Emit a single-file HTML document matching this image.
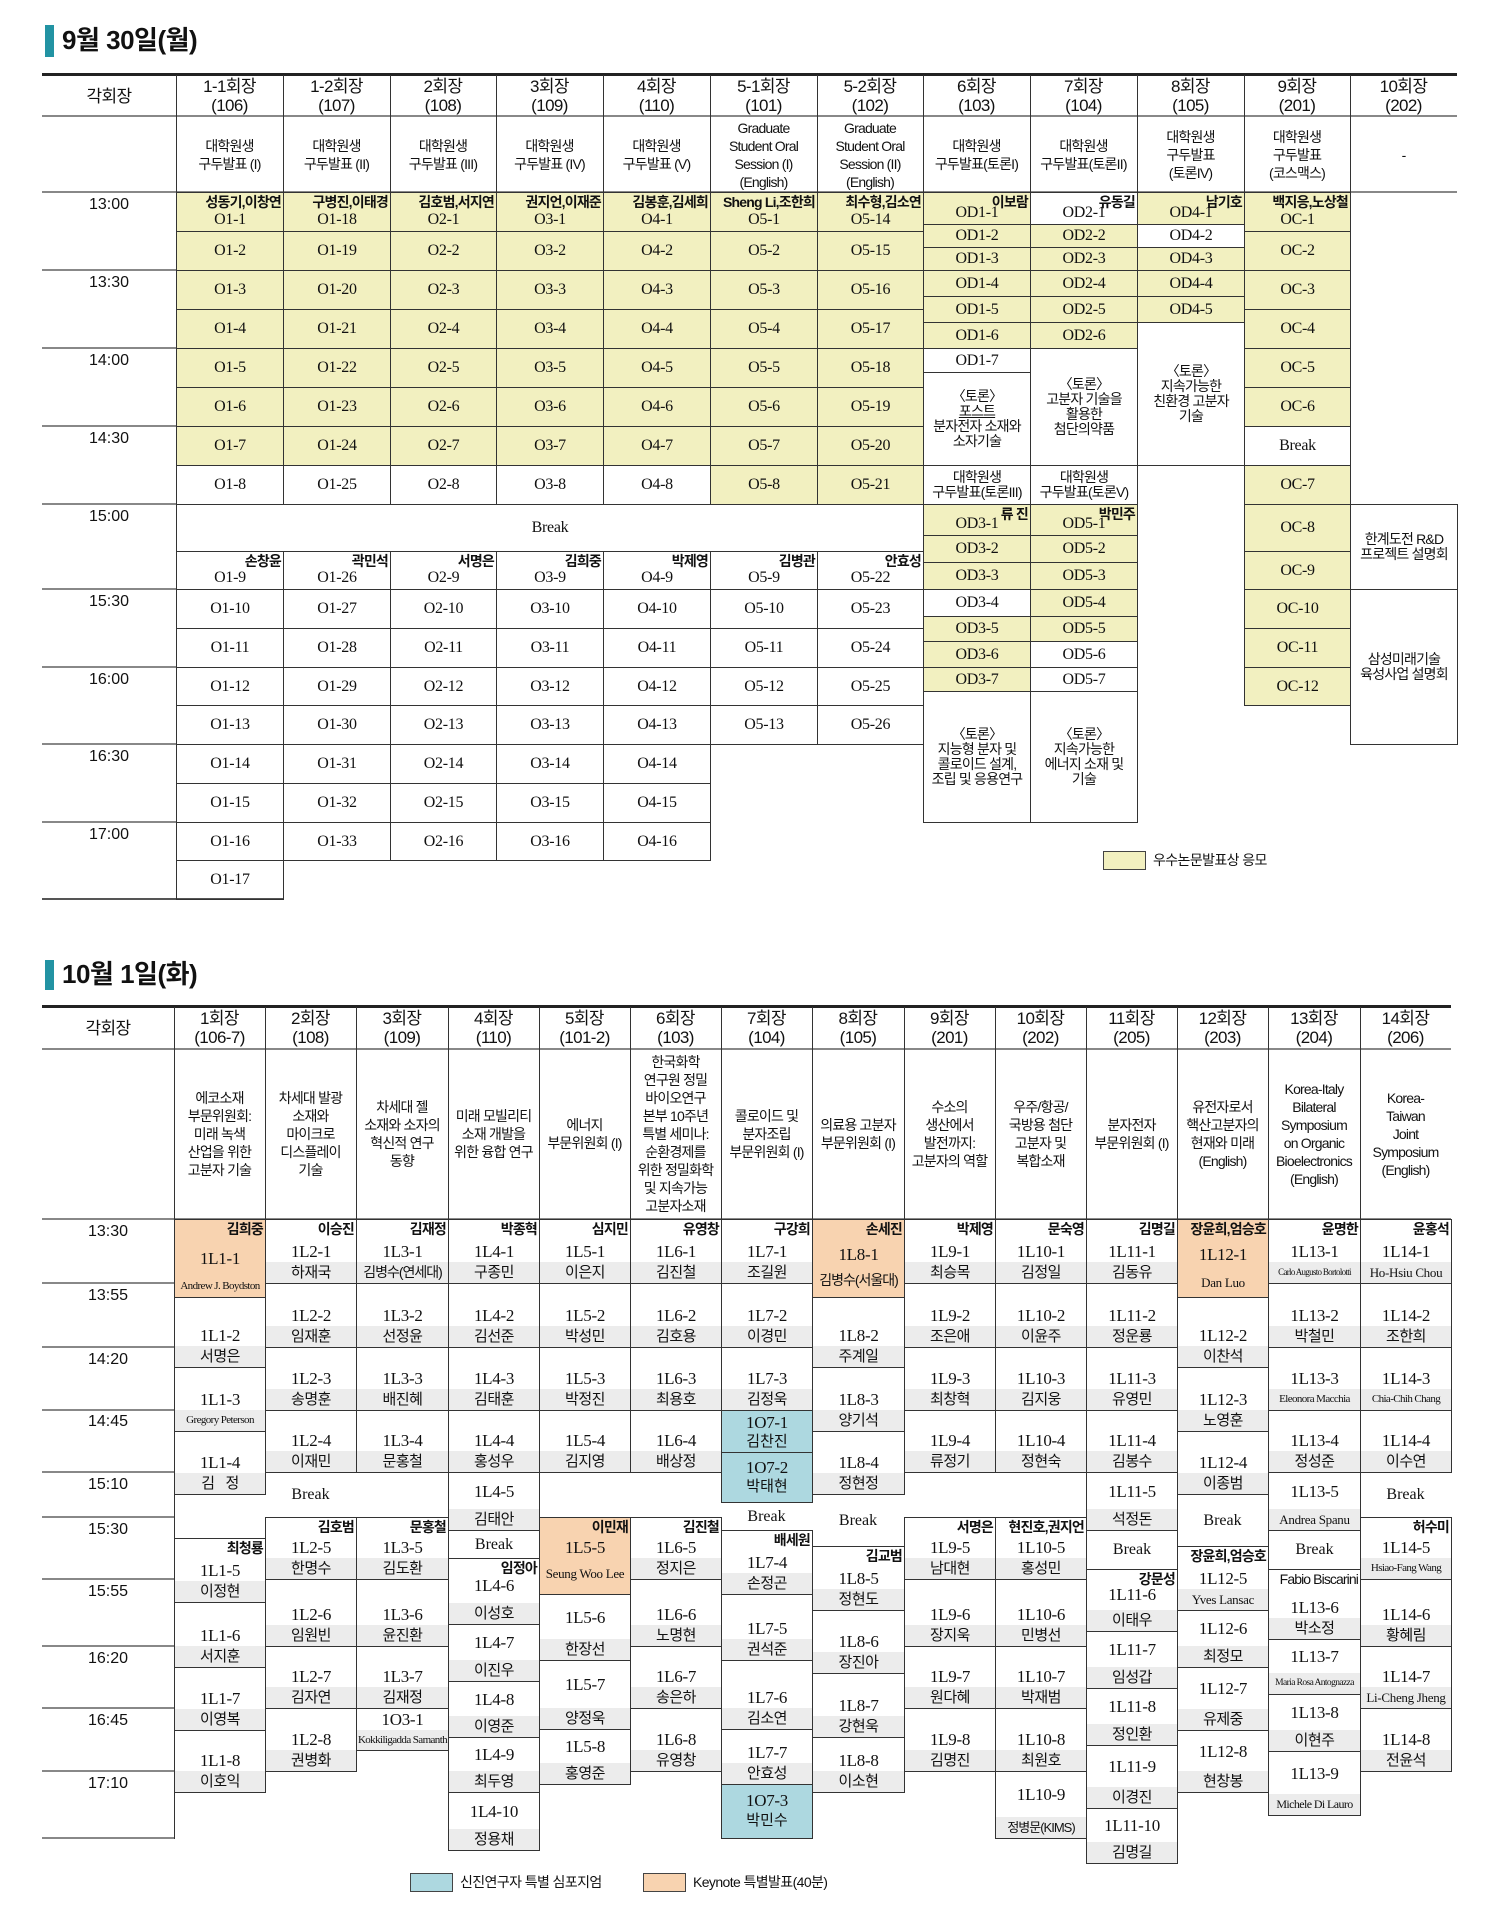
<!DOCTYPE html>
<html><head><meta charset="utf-8"><style>
body{margin:0;width:1500px;height:1931px;position:relative;background:#fff;font-family:"Liberation Sans","Noto Sans CJK KR",sans-serif;color:#111;overflow:hidden}
.a{position:absolute;box-sizing:border-box}
.c{position:absolute;box-sizing:border-box;border:1px solid #333;display:flex;align-items:center;justify-content:center;text-align:center;font:16px/1.1 "Liberation Serif","Noto Serif CJK KR",serif;letter-spacing:-0.3px}
.y{background:#f2f0c0}
.n{align-items:flex-end;padding-bottom:2px}
.n b,.d b{position:absolute;top:1px;right:2px;font:bold 14px/16px "Liberation Sans","Noto Sans CJK KR",sans-serif;letter-spacing:-0.8px;white-space:nowrap}
.t{font:14px/15px "Liberation Sans","Noto Sans CJK KR",sans-serif;letter-spacing:-0.8px}
.h{position:absolute;box-sizing:border-box;display:flex;align-items:center;justify-content:center;text-align:center;font:17px/19px "Liberation Sans","Noto Sans CJK KR",sans-serif;letter-spacing:-0.6px}
.ds{position:absolute;box-sizing:border-box;display:flex;align-items:center;justify-content:center;text-align:center;font:14px/18px "Liberation Sans","Noto Sans CJK KR",sans-serif;letter-spacing:-0.8px}
.tm{position:absolute;width:134px;left:42px;text-align:center;font:16px "Liberation Sans",sans-serif}
.vl{position:absolute;background:#333;width:1px}
.hl{position:absolute;background:#888;height:2px}
.d{position:absolute;box-sizing:border-box;border:1px solid #333;display:flex;flex-direction:column;justify-content:flex-end;text-align:center;background:#fff}
.cd{font:17px/19px "Liberation Serif",serif;margin-bottom:1px;letter-spacing:-0.3px}
.m .cd{flex:1;display:flex;align-items:center;justify-content:center;margin:0}
.bd{height:21px;line-height:21px;background:#ececec;font-size:15px;letter-spacing:-0.5px;font-family:"Liberation Sans","Noto Sans CJK KR",sans-serif;white-space:nowrap;overflow:hidden}
.sm{font:11px/21px "Liberation Serif",serif;letter-spacing:-0.6px}
.en{font:13px/21px "Liberation Serif",serif;letter-spacing:-0.3px}
.o{background:#f8d3b0}.o .bd{background:transparent}
.bl{background:#add8e0;justify-content:center}
.bk{position:absolute;display:flex;align-items:center;justify-content:center;font:16px "Liberation Serif",serif}
</style></head><body>

<div class="a" style="left:45px;top:25px;width:9px;height:32px;background:#2293a3"></div>
<div class="a" style="left:62px;top:23px;font:bold 26px/34px 'Liberation Sans','Noto Sans CJK KR',sans-serif;letter-spacing:-0.5px">9월 30일(월)</div>

<div class="a" style="left:42px;top:73px;width:1415px;height:3px;background:#222"></div>
<div class="hl" style="left:42px;top:115px;width:1415px"></div>
<div class="hl" style="left:42px;top:191px;width:1415px"></div>
<div class="vl" style="left:176px;top:75px;height:825px"></div>
<div class="h" style="left:42px;top:76px;width:134px;height:40px">각회장</div>
<div class="h" style="left:176px;top:76px;width:107px;height:40px">1-1회장<br>(106)</div>
<div class="h" style="left:283px;top:76px;width:107px;height:40px">1-2회장<br>(107)</div>
<div class="h" style="left:390px;top:76px;width:106px;height:40px">2회장<br>(108)</div>
<div class="h" style="left:496px;top:76px;width:107px;height:40px">3회장<br>(109)</div>
<div class="h" style="left:603px;top:76px;width:107px;height:40px">4회장<br>(110)</div>
<div class="h" style="left:710px;top:76px;width:107px;height:40px">5-1회장<br>(101)</div>
<div class="h" style="left:817px;top:76px;width:106px;height:40px">5-2회장<br>(102)</div>
<div class="h" style="left:923px;top:76px;width:107px;height:40px">6회장<br>(103)</div>
<div class="h" style="left:1030px;top:76px;width:107px;height:40px">7회장<br>(104)</div>
<div class="h" style="left:1137px;top:76px;width:107px;height:40px">8회장<br>(105)</div>
<div class="h" style="left:1244px;top:76px;width:106px;height:40px">9회장<br>(201)</div>
<div class="h" style="left:1350px;top:76px;width:107px;height:40px">10회장<br>(202)</div>
<div class="vl" style="left:283px;top:75px;height:117px"></div><div class="vl" style="left:390px;top:75px;height:117px"></div><div class="vl" style="left:496px;top:75px;height:117px"></div><div class="vl" style="left:603px;top:75px;height:117px"></div><div class="vl" style="left:710px;top:75px;height:117px"></div><div class="vl" style="left:817px;top:75px;height:117px"></div><div class="vl" style="left:923px;top:75px;height:117px"></div><div class="vl" style="left:1030px;top:75px;height:117px"></div><div class="vl" style="left:1137px;top:75px;height:117px"></div><div class="vl" style="left:1244px;top:75px;height:117px"></div><div class="vl" style="left:1350px;top:75px;height:117px"></div>
<div class="ds" style="left:176px;top:117px;width:107px;height:75px">대학원생<br>구두발표 (I)</div>
<div class="ds" style="left:283px;top:117px;width:107px;height:75px">대학원생<br>구두발표 (II)</div>
<div class="ds" style="left:390px;top:117px;width:106px;height:75px">대학원생<br>구두발표 (III)</div>
<div class="ds" style="left:496px;top:117px;width:107px;height:75px">대학원생<br>구두발표 (IV)</div>
<div class="ds" style="left:603px;top:117px;width:107px;height:75px">대학원생<br>구두발표 (V)</div>
<div class="ds" style="left:710px;top:117px;width:107px;height:75px">Graduate<br>Student Oral<br>Session (I)<br>(English)</div>
<div class="ds" style="left:817px;top:117px;width:106px;height:75px">Graduate<br>Student Oral<br>Session (II)<br>(English)</div>
<div class="ds" style="left:923px;top:117px;width:107px;height:75px">대학원생<br>구두발표(토론I)</div>
<div class="ds" style="left:1030px;top:117px;width:107px;height:75px">대학원생<br>구두발표(토론II)</div>
<div class="ds" style="left:1137px;top:117px;width:107px;height:75px">대학원생<br>구두발표<br>(토론IV)</div>
<div class="ds" style="left:1244px;top:117px;width:106px;height:75px">대학원생<br>구두발표<br>(코스맥스)</div>
<div class="ds" style="left:1350px;top:117px;width:107px;height:75px">-</div>

<div class="hl" style="left:42px;top:269px;width:134px"></div><div class="hl" style="left:42px;top:347px;width:134px"></div><div class="hl" style="left:42px;top:425px;width:134px"></div><div class="hl" style="left:42px;top:503px;width:134px"></div><div class="hl" style="left:42px;top:588px;width:134px"></div><div class="hl" style="left:42px;top:666px;width:134px"></div><div class="hl" style="left:42px;top:743px;width:134px"></div><div class="hl" style="left:42px;top:821px;width:134px"></div><div class="a" style="left:42px;top:898px;width:241px;height:2px;background:#555"></div>
<div class="tm" style="top:196px">13:00</div><div class="tm" style="top:274px">13:30</div><div class="tm" style="top:352px">14:00</div><div class="tm" style="top:430px">14:30</div><div class="tm" style="top:508px">15:00</div><div class="tm" style="top:593px">15:30</div><div class="tm" style="top:671px">16:00</div><div class="tm" style="top:748px">16:30</div><div class="tm" style="top:826px">17:00</div>

<div class="c y n" style="left:176px;top:192px;width:108px;height:40px"><b>성동기,이창연</b>O1-1</div>
<div class="c y" style="left:176px;top:231px;width:108px;height:40px">O1-2</div>
<div class="c y" style="left:176px;top:270px;width:108px;height:40px">O1-3</div>
<div class="c y" style="left:176px;top:309px;width:108px;height:40px">O1-4</div>
<div class="c y" style="left:176px;top:348px;width:108px;height:40px">O1-5</div>
<div class="c y" style="left:176px;top:387px;width:108px;height:40px">O1-6</div>
<div class="c y" style="left:176px;top:426px;width:108px;height:40px">O1-7</div>
<div class="c" style="left:176px;top:465px;width:108px;height:40px">O1-8</div>
<div class="c n" style="left:176px;top:551px;width:108px;height:39px"><b>손창윤</b>O1-9</div>
<div class="c" style="left:176px;top:589px;width:108px;height:40px">O1-10</div>
<div class="c" style="left:176px;top:628px;width:108px;height:40px">O1-11</div>
<div class="c" style="left:176px;top:667px;width:108px;height:39px">O1-12</div>
<div class="c" style="left:176px;top:705px;width:108px;height:40px">O1-13</div>
<div class="c" style="left:176px;top:744px;width:108px;height:40px">O1-14</div>
<div class="c" style="left:176px;top:783px;width:108px;height:40px">O1-15</div>
<div class="c" style="left:176px;top:822px;width:108px;height:39px">O1-16</div>
<div class="c" style="left:176px;top:860px;width:108px;height:40px">O1-17</div>
<div class="c y n" style="left:283px;top:192px;width:108px;height:40px"><b>구병진,이태경</b>O1-18</div>
<div class="c y" style="left:283px;top:231px;width:108px;height:40px">O1-19</div>
<div class="c y" style="left:283px;top:270px;width:108px;height:40px">O1-20</div>
<div class="c y" style="left:283px;top:309px;width:108px;height:40px">O1-21</div>
<div class="c y" style="left:283px;top:348px;width:108px;height:40px">O1-22</div>
<div class="c y" style="left:283px;top:387px;width:108px;height:40px">O1-23</div>
<div class="c y" style="left:283px;top:426px;width:108px;height:40px">O1-24</div>
<div class="c" style="left:283px;top:465px;width:108px;height:40px">O1-25</div>
<div class="c n" style="left:283px;top:551px;width:108px;height:39px"><b>곽민석</b>O1-26</div>
<div class="c" style="left:283px;top:589px;width:108px;height:40px">O1-27</div>
<div class="c" style="left:283px;top:628px;width:108px;height:40px">O1-28</div>
<div class="c" style="left:283px;top:667px;width:108px;height:39px">O1-29</div>
<div class="c" style="left:283px;top:705px;width:108px;height:40px">O1-30</div>
<div class="c" style="left:283px;top:744px;width:108px;height:40px">O1-31</div>
<div class="c" style="left:283px;top:783px;width:108px;height:40px">O1-32</div>
<div class="c" style="left:283px;top:822px;width:108px;height:39px">O1-33</div>
<div class="c y n" style="left:390px;top:192px;width:107px;height:40px"><b>김호범,서지연</b>O2-1</div>
<div class="c y" style="left:390px;top:231px;width:107px;height:40px">O2-2</div>
<div class="c y" style="left:390px;top:270px;width:107px;height:40px">O2-3</div>
<div class="c y" style="left:390px;top:309px;width:107px;height:40px">O2-4</div>
<div class="c y" style="left:390px;top:348px;width:107px;height:40px">O2-5</div>
<div class="c y" style="left:390px;top:387px;width:107px;height:40px">O2-6</div>
<div class="c y" style="left:390px;top:426px;width:107px;height:40px">O2-7</div>
<div class="c" style="left:390px;top:465px;width:107px;height:40px">O2-8</div>
<div class="c n" style="left:390px;top:551px;width:107px;height:39px"><b>서명은</b>O2-9</div>
<div class="c" style="left:390px;top:589px;width:107px;height:40px">O2-10</div>
<div class="c" style="left:390px;top:628px;width:107px;height:40px">O2-11</div>
<div class="c" style="left:390px;top:667px;width:107px;height:39px">O2-12</div>
<div class="c" style="left:390px;top:705px;width:107px;height:40px">O2-13</div>
<div class="c" style="left:390px;top:744px;width:107px;height:40px">O2-14</div>
<div class="c" style="left:390px;top:783px;width:107px;height:40px">O2-15</div>
<div class="c" style="left:390px;top:822px;width:107px;height:39px">O2-16</div>
<div class="c y n" style="left:496px;top:192px;width:108px;height:40px"><b>권지언,이재준</b>O3-1</div>
<div class="c y" style="left:496px;top:231px;width:108px;height:40px">O3-2</div>
<div class="c y" style="left:496px;top:270px;width:108px;height:40px">O3-3</div>
<div class="c y" style="left:496px;top:309px;width:108px;height:40px">O3-4</div>
<div class="c y" style="left:496px;top:348px;width:108px;height:40px">O3-5</div>
<div class="c y" style="left:496px;top:387px;width:108px;height:40px">O3-6</div>
<div class="c y" style="left:496px;top:426px;width:108px;height:40px">O3-7</div>
<div class="c" style="left:496px;top:465px;width:108px;height:40px">O3-8</div>
<div class="c n" style="left:496px;top:551px;width:108px;height:39px"><b>김희중</b>O3-9</div>
<div class="c" style="left:496px;top:589px;width:108px;height:40px">O3-10</div>
<div class="c" style="left:496px;top:628px;width:108px;height:40px">O3-11</div>
<div class="c" style="left:496px;top:667px;width:108px;height:39px">O3-12</div>
<div class="c" style="left:496px;top:705px;width:108px;height:40px">O3-13</div>
<div class="c" style="left:496px;top:744px;width:108px;height:40px">O3-14</div>
<div class="c" style="left:496px;top:783px;width:108px;height:40px">O3-15</div>
<div class="c" style="left:496px;top:822px;width:108px;height:39px">O3-16</div>
<div class="c y n" style="left:603px;top:192px;width:108px;height:40px"><b>김봉훈,김세희</b>O4-1</div>
<div class="c y" style="left:603px;top:231px;width:108px;height:40px">O4-2</div>
<div class="c y" style="left:603px;top:270px;width:108px;height:40px">O4-3</div>
<div class="c y" style="left:603px;top:309px;width:108px;height:40px">O4-4</div>
<div class="c y" style="left:603px;top:348px;width:108px;height:40px">O4-5</div>
<div class="c y" style="left:603px;top:387px;width:108px;height:40px">O4-6</div>
<div class="c y" style="left:603px;top:426px;width:108px;height:40px">O4-7</div>
<div class="c" style="left:603px;top:465px;width:108px;height:40px">O4-8</div>
<div class="c n" style="left:603px;top:551px;width:108px;height:39px"><b>박제영</b>O4-9</div>
<div class="c" style="left:603px;top:589px;width:108px;height:40px">O4-10</div>
<div class="c" style="left:603px;top:628px;width:108px;height:40px">O4-11</div>
<div class="c" style="left:603px;top:667px;width:108px;height:39px">O4-12</div>
<div class="c" style="left:603px;top:705px;width:108px;height:40px">O4-13</div>
<div class="c" style="left:603px;top:744px;width:108px;height:40px">O4-14</div>
<div class="c" style="left:603px;top:783px;width:108px;height:40px">O4-15</div>
<div class="c" style="left:603px;top:822px;width:108px;height:39px">O4-16</div>
<div class="c y n" style="left:710px;top:192px;width:108px;height:40px"><b>Sheng Li,조한희</b>O5-1</div>
<div class="c y" style="left:710px;top:231px;width:108px;height:40px">O5-2</div>
<div class="c y" style="left:710px;top:270px;width:108px;height:40px">O5-3</div>
<div class="c y" style="left:710px;top:309px;width:108px;height:40px">O5-4</div>
<div class="c y" style="left:710px;top:348px;width:108px;height:40px">O5-5</div>
<div class="c y" style="left:710px;top:387px;width:108px;height:40px">O5-6</div>
<div class="c y" style="left:710px;top:426px;width:108px;height:40px">O5-7</div>
<div class="c y" style="left:710px;top:465px;width:108px;height:40px">O5-8</div>
<div class="c n" style="left:710px;top:551px;width:108px;height:39px"><b>김병관</b>O5-9</div>
<div class="c" style="left:710px;top:589px;width:108px;height:40px">O5-10</div>
<div class="c" style="left:710px;top:628px;width:108px;height:40px">O5-11</div>
<div class="c" style="left:710px;top:667px;width:108px;height:39px">O5-12</div>
<div class="c" style="left:710px;top:705px;width:108px;height:40px">O5-13</div>
<div class="c y n" style="left:817px;top:192px;width:107px;height:40px"><b>최수형,김소연</b>O5-14</div>
<div class="c y" style="left:817px;top:231px;width:107px;height:40px">O5-15</div>
<div class="c y" style="left:817px;top:270px;width:107px;height:40px">O5-16</div>
<div class="c y" style="left:817px;top:309px;width:107px;height:40px">O5-17</div>
<div class="c y" style="left:817px;top:348px;width:107px;height:40px">O5-18</div>
<div class="c y" style="left:817px;top:387px;width:107px;height:40px">O5-19</div>
<div class="c y" style="left:817px;top:426px;width:107px;height:40px">O5-20</div>
<div class="c y" style="left:817px;top:465px;width:107px;height:40px">O5-21</div>
<div class="c n" style="left:817px;top:551px;width:107px;height:39px"><b>안효성</b>O5-22</div>
<div class="c" style="left:817px;top:589px;width:107px;height:40px">O5-23</div>
<div class="c" style="left:817px;top:628px;width:107px;height:40px">O5-24</div>
<div class="c" style="left:817px;top:667px;width:107px;height:39px">O5-25</div>
<div class="c" style="left:817px;top:705px;width:107px;height:40px">O5-26</div>
<div class="c" style="left:176px;top:504px;width:748px;height:48px">Break</div>
<div class="c y n" style="left:923px;top:192px;width:108px;height:33px"><b>이보람</b>OD1-1</div>
<div class="c y" style="left:923px;top:224px;width:108px;height:24px">OD1-2</div>
<div class="c y" style="left:923px;top:247px;width:108px;height:24px">OD1-3</div>
<div class="c y" style="left:923px;top:270px;width:108px;height:27px">OD1-4</div>
<div class="c y" style="left:923px;top:296px;width:108px;height:27px">OD1-5</div>
<div class="c y" style="left:923px;top:322px;width:108px;height:27px">OD1-6</div>
<div class="c" style="left:923px;top:348px;width:108px;height:25px">OD1-7</div>
<div class="c t" style="left:923px;top:372px;width:108px;height:94px"><div>〈토론〉<br><u>포스트</u><br>분자전자 소재와<br>소자기술</div></div>
<div class="c t" style="left:923px;top:465px;width:108px;height:40px"><div>대학원생<br>구두발표(토론III)</div></div>
<div class="c y n" style="left:923px;top:504px;width:108px;height:32px"><b>류 진</b>OD3-1</div>
<div class="c y" style="left:923px;top:535px;width:108px;height:28px">OD3-2</div>
<div class="c y" style="left:923px;top:562px;width:108px;height:28px">OD3-3</div>
<div class="c" style="left:923px;top:589px;width:108px;height:28px">OD3-4</div>
<div class="c y" style="left:923px;top:616px;width:108px;height:26px">OD3-5</div>
<div class="c y" style="left:923px;top:641px;width:108px;height:27px">OD3-6</div>
<div class="c y" style="left:923px;top:667px;width:108px;height:25px">OD3-7</div>
<div class="c t" style="left:923px;top:691px;width:108px;height:132px"><div>〈토론〉<br>지능형 분자 및<br>콜로이드 설계,<br>조립 및 응용연구</div></div>
<div class="c n" style="left:1030px;top:192px;width:108px;height:33px"><b>유동길</b>OD2-1</div>
<div class="c y" style="left:1030px;top:224px;width:108px;height:24px">OD2-2</div>
<div class="c y" style="left:1030px;top:247px;width:108px;height:24px">OD2-3</div>
<div class="c y" style="left:1030px;top:270px;width:108px;height:27px">OD2-4</div>
<div class="c y" style="left:1030px;top:296px;width:108px;height:27px">OD2-5</div>
<div class="c y" style="left:1030px;top:322px;width:108px;height:27px">OD2-6</div>
<div class="c t" style="left:1030px;top:348px;width:108px;height:118px"><div>〈토론〉<br>고분자 기술을<br>활용한<br>첨단의약품</div></div>
<div class="c t" style="left:1030px;top:465px;width:108px;height:40px"><div>대학원생<br>구두발표(토론V)</div></div>
<div class="c y n" style="left:1030px;top:504px;width:108px;height:32px"><b>박민주</b>OD5-1</div>
<div class="c y" style="left:1030px;top:535px;width:108px;height:28px">OD5-2</div>
<div class="c y" style="left:1030px;top:562px;width:108px;height:28px">OD5-3</div>
<div class="c y" style="left:1030px;top:589px;width:108px;height:28px">OD5-4</div>
<div class="c y" style="left:1030px;top:616px;width:108px;height:26px">OD5-5</div>
<div class="c" style="left:1030px;top:641px;width:108px;height:27px">OD5-6</div>
<div class="c" style="left:1030px;top:667px;width:108px;height:25px">OD5-7</div>
<div class="c t" style="left:1030px;top:691px;width:108px;height:132px"><div>〈토론〉<br>지속가능한<br>에너지 소재 및<br>기술</div></div>
<div class="c y n" style="left:1137px;top:192px;width:108px;height:33px"><b>남기호</b>OD4-1</div>
<div class="c" style="left:1137px;top:224px;width:108px;height:24px">OD4-2</div>
<div class="c y" style="left:1137px;top:247px;width:108px;height:24px">OD4-3</div>
<div class="c y" style="left:1137px;top:270px;width:108px;height:27px">OD4-4</div>
<div class="c y" style="left:1137px;top:296px;width:108px;height:27px">OD4-5</div>
<div class="c t" style="left:1137px;top:322px;width:108px;height:144px"><div>〈토론〉<br>지속가능한<br>친환경 고분자<br>기술</div></div>
<div class="c y n" style="left:1244px;top:192px;width:107px;height:40px"><b>백지응,노상철</b>OC-1</div>
<div class="c y" style="left:1244px;top:231px;width:107px;height:40px">OC-2</div>
<div class="c y" style="left:1244px;top:270px;width:107px;height:40px">OC-3</div>
<div class="c y" style="left:1244px;top:309px;width:107px;height:40px">OC-4</div>
<div class="c y" style="left:1244px;top:348px;width:107px;height:40px">OC-5</div>
<div class="c y" style="left:1244px;top:387px;width:107px;height:40px">OC-6</div>
<div class="c" style="left:1244px;top:426px;width:107px;height:40px">Break</div>
<div class="c y" style="left:1244px;top:465px;width:107px;height:40px">OC-7</div>
<div class="c y" style="left:1244px;top:504px;width:107px;height:48px">OC-8</div>
<div class="c y" style="left:1244px;top:551px;width:107px;height:39px">OC-9</div>
<div class="c y" style="left:1244px;top:589px;width:107px;height:40px">OC-10</div>
<div class="c y" style="left:1244px;top:628px;width:107px;height:40px">OC-11</div>
<div class="c y" style="left:1244px;top:667px;width:107px;height:39px">OC-12</div>
<div class="c t" style="left:1350px;top:504px;width:108px;height:86px"><div>한계도전 R&amp;D<br>프로젝트 설명회</div></div>
<div class="c t" style="left:1350px;top:589px;width:108px;height:156px"><div>삼성미래기술<br>육성사업 설명회</div></div>
<div class="a" style="left:1103px;top:851px;width:43px;height:19px;background:#f2f0c0;border:1px solid #444"></div>
<div class="a" style="left:1153px;top:851px;font:14px/19px 'Liberation Sans','Noto Sans CJK KR',sans-serif;letter-spacing:-0.6px">우수논문발표상 응모</div>

<div class="a" style="left:45px;top:960px;width:9px;height:30px;background:#2293a3"></div>
<div class="a" style="left:62px;top:957px;font:bold 26px/34px 'Liberation Sans','Noto Sans CJK KR',sans-serif;letter-spacing:-0.5px">10월 1일(화)</div>

<div class="a" style="left:42px;top:1005px;width:1409px;height:3px;background:#222"></div>
<div class="hl" style="left:42px;top:1048px;width:1409px"></div>
<div class="hl" style="left:42px;top:1218px;width:1409px"></div>
<div class="vl" style="left:174px;top:1007px;height:832px"></div>
<div class="h" style="left:42px;top:1008px;width:132px;height:40px">각회장</div>
<div class="h" style="left:174px;top:1008px;width:91px;height:40px">1회장<br>(106-7)</div>
<div class="h" style="left:265px;top:1008px;width:91px;height:40px">2회장<br>(108)</div>
<div class="h" style="left:356px;top:1008px;width:92px;height:40px">3회장<br>(109)</div>
<div class="h" style="left:448px;top:1008px;width:91px;height:40px">4회장<br>(110)</div>
<div class="h" style="left:539px;top:1008px;width:91px;height:40px">5회장<br>(101-2)</div>
<div class="h" style="left:630px;top:1008px;width:91px;height:40px">6회장<br>(103)</div>
<div class="h" style="left:721px;top:1008px;width:91px;height:40px">7회장<br>(104)</div>
<div class="h" style="left:812px;top:1008px;width:92px;height:40px">8회장<br>(105)</div>
<div class="h" style="left:904px;top:1008px;width:91px;height:40px">9회장<br>(201)</div>
<div class="h" style="left:995px;top:1008px;width:91px;height:40px">10회장<br>(202)</div>
<div class="h" style="left:1086px;top:1008px;width:91px;height:40px">11회장<br>(205)</div>
<div class="h" style="left:1177px;top:1008px;width:91px;height:40px">12회장<br>(203)</div>
<div class="h" style="left:1268px;top:1008px;width:92px;height:40px">13회장<br>(204)</div>
<div class="h" style="left:1360px;top:1008px;width:91px;height:40px">14회장<br>(206)</div>
<div class="vl" style="left:265px;top:1007px;height:212px"></div><div class="vl" style="left:356px;top:1007px;height:212px"></div><div class="vl" style="left:448px;top:1007px;height:212px"></div><div class="vl" style="left:539px;top:1007px;height:212px"></div><div class="vl" style="left:630px;top:1007px;height:212px"></div><div class="vl" style="left:721px;top:1007px;height:212px"></div><div class="vl" style="left:812px;top:1007px;height:212px"></div><div class="vl" style="left:904px;top:1007px;height:212px"></div><div class="vl" style="left:995px;top:1007px;height:212px"></div><div class="vl" style="left:1086px;top:1007px;height:212px"></div><div class="vl" style="left:1177px;top:1007px;height:212px"></div><div class="vl" style="left:1268px;top:1007px;height:212px"></div><div class="vl" style="left:1360px;top:1007px;height:212px"></div>
<div class="ds" style="left:174px;top:1050px;width:91px;height:168px">에코소재<br>부문위원회:<br>미래 녹색<br>산업을 위한<br>고분자 기술</div>
<div class="ds" style="left:265px;top:1050px;width:91px;height:168px">차세대 발광<br>소재와<br>마이크로<br>디스플레이<br>기술</div>
<div class="ds" style="left:356px;top:1050px;width:92px;height:168px">차세대 젤<br>소재와 소자의<br>혁신적 연구<br>동향</div>
<div class="ds" style="left:448px;top:1050px;width:91px;height:168px">미래 모빌리티<br>소재 개발을<br>위한 융합 연구</div>
<div class="ds" style="left:539px;top:1050px;width:91px;height:168px">에너지<br>부문위원회 (I)</div>
<div class="ds" style="left:630px;top:1050px;width:91px;height:168px">한국화학<br>연구원 정밀<br>바이오연구<br>본부 10주년<br>특별 세미나:<br>순환경제를<br>위한 정밀화학<br>및 지속가능<br>고분자소재</div>
<div class="ds" style="left:721px;top:1050px;width:91px;height:168px">콜로이드 및<br>분자조립<br>부문위원회 (I)</div>
<div class="ds" style="left:812px;top:1050px;width:92px;height:168px">의료용 고분자<br>부문위원회 (I)</div>
<div class="ds" style="left:904px;top:1050px;width:91px;height:168px">수소의<br>생산에서<br>발전까지:<br>고분자의 역할</div>
<div class="ds" style="left:995px;top:1050px;width:91px;height:168px">우주/항공/<br>국방용 첨단<br>고분자 및<br>복합소재</div>
<div class="ds" style="left:1086px;top:1050px;width:91px;height:168px">분자전자<br>부문위원회 (I)</div>
<div class="ds" style="left:1177px;top:1050px;width:91px;height:168px">유전자로서<br>핵산고분자의<br>현재와 미래<br>(English)</div>
<div class="ds" style="left:1268px;top:1050px;width:92px;height:168px">Korea-Italy<br>Bilateral<br>Symposium<br>on Organic<br>Bioelectronics<br>(English)</div>
<div class="ds" style="left:1360px;top:1050px;width:91px;height:168px">Korea-<br>Taiwan<br>Joint<br>Symposium<br>(English)</div>

<div class="hl" style="left:42px;top:1282px;width:132px"></div><div class="hl" style="left:42px;top:1346px;width:132px"></div><div class="hl" style="left:42px;top:1409px;width:132px"></div><div class="hl" style="left:42px;top:1471px;width:132px"></div><div class="hl" style="left:42px;top:1516px;width:132px"></div><div class="hl" style="left:42px;top:1578px;width:132px"></div><div class="hl" style="left:42px;top:1645px;width:132px"></div><div class="hl" style="left:42px;top:1707px;width:132px"></div><div class="hl" style="left:42px;top:1770px;width:132px"></div><div class="hl" style="left:42px;top:1837px;width:132px"></div>
<div class="tm" style="top:1223px;width:132px">13:30</div><div class="tm" style="top:1287px;width:132px">13:55</div><div class="tm" style="top:1351px;width:132px">14:20</div><div class="tm" style="top:1413px;width:132px">14:45</div><div class="tm" style="top:1476px;width:132px">15:10</div><div class="tm" style="top:1521px;width:132px">15:30</div><div class="tm" style="top:1583px;width:132px">15:55</div><div class="tm" style="top:1650px;width:132px">16:20</div><div class="tm" style="top:1712px;width:132px">16:45</div><div class="tm" style="top:1775px;width:132px">17:10</div>

<div class="d o" style="left:174px;top:1219px;width:92px;height:79px"><b>김희중</b><div class="cd" style="margin-bottom:8px">1L1-1</div><div class="bd sm">Andrew J. Boydston</div></div>
<div class="d" style="left:174px;top:1297px;width:92px;height:71px"><div class="cd">1L1-2</div><div class="bd">서명은</div></div>
<div class="d" style="left:174px;top:1367px;width:92px;height:65px"><div class="cd">1L1-3</div><div class="bd sm">Gregory Peterson</div></div>
<div class="d" style="left:174px;top:1431px;width:92px;height:64px"><div class="cd">1L1-4</div><div class="bd">김&nbsp;&nbsp;&nbsp;정</div></div>
<div class="d" style="left:174px;top:1538px;width:92px;height:65px"><b>최청룡</b><div class="cd">1L1-5</div><div class="bd">이정현</div></div>
<div class="d" style="left:174px;top:1602px;width:92px;height:66px"><div class="cd">1L1-6</div><div class="bd">서지훈</div></div>
<div class="d" style="left:174px;top:1667px;width:92px;height:64px"><div class="cd">1L1-7</div><div class="bd">이영복</div></div>
<div class="d" style="left:174px;top:1730px;width:92px;height:63px"><div class="cd">1L1-8</div><div class="bd">이호익</div></div>
<div class="d" style="left:265px;top:1219px;width:92px;height:65px"><b>이승진</b><div class="cd">1L2-1</div><div class="bd">하재국</div></div>
<div class="d" style="left:265px;top:1283px;width:92px;height:65px"><div class="cd">1L2-2</div><div class="bd">임재훈</div></div>
<div class="d" style="left:265px;top:1347px;width:92px;height:64px"><div class="cd">1L2-3</div><div class="bd">송명훈</div></div>
<div class="d" style="left:265px;top:1410px;width:92px;height:63px"><div class="cd">1L2-4</div><div class="bd">이재민</div></div>
<div class="bk" style="left:265px;top:1474px;width:91px;height:42px">Break</div>
<div class="d" style="left:265px;top:1517px;width:92px;height:63px"><b>김호범</b><div class="cd">1L2-5</div><div class="bd">한명수</div></div>
<div class="d" style="left:265px;top:1579px;width:92px;height:68px"><div class="cd">1L2-6</div><div class="bd">임원빈</div></div>
<div class="d" style="left:265px;top:1646px;width:92px;height:63px"><div class="cd">1L2-7</div><div class="bd">김자연</div></div>
<div class="d" style="left:265px;top:1708px;width:92px;height:64px"><div class="cd">1L2-8</div><div class="bd">권병화</div></div>
<div class="d" style="left:356px;top:1219px;width:93px;height:65px"><b>김재정</b><div class="cd">1L3-1</div><div class="bd" style="font-size:14px;letter-spacing:-1px">김병수(연세대)</div></div>
<div class="d" style="left:356px;top:1283px;width:93px;height:65px"><div class="cd">1L3-2</div><div class="bd">선정윤</div></div>
<div class="d" style="left:356px;top:1347px;width:93px;height:64px"><div class="cd">1L3-3</div><div class="bd">배진혜</div></div>
<div class="d" style="left:356px;top:1410px;width:93px;height:63px"><div class="cd">1L3-4</div><div class="bd">문홍철</div></div>
<div class="d" style="left:356px;top:1517px;width:93px;height:63px"><b>문홍철</b><div class="cd">1L3-5</div><div class="bd">김도환</div></div>
<div class="d" style="left:356px;top:1579px;width:93px;height:68px"><div class="cd">1L3-6</div><div class="bd">윤진환</div></div>
<div class="d" style="left:356px;top:1646px;width:93px;height:63px"><div class="cd">1L3-7</div><div class="bd">김재정</div></div>
<div class="d" style="left:356px;top:1708px;width:93px;height:43px"><div class="cd">1O3-1</div><div class="bd sm" style="height:20px;line-height:20px">Kokkiligadda Samanth</div></div>
<div class="d" style="left:448px;top:1219px;width:92px;height:65px"><b>박종혁</b><div class="cd">1L4-1</div><div class="bd">구종민</div></div>
<div class="d" style="left:448px;top:1283px;width:92px;height:65px"><div class="cd">1L4-2</div><div class="bd">김선준</div></div>
<div class="d" style="left:448px;top:1347px;width:92px;height:64px"><div class="cd">1L4-3</div><div class="bd">김태훈</div></div>
<div class="d" style="left:448px;top:1410px;width:92px;height:63px"><div class="cd">1L4-4</div><div class="bd">홍성우</div></div>
<div class="d m" style="left:448px;top:1472px;width:92px;height:59px"><div class="cd">1L4-5</div><div class="bd">김태안</div></div>
<div class="d" style="left:448px;top:1530px;width:92px;height:29px;justify-content:center;font:16px 'Liberation Serif',serif">Break</div>
<div class="d" style="left:448px;top:1558px;width:92px;height:67px"><b>임정아</b><div class="cd" style="margin-bottom:8px">1L4-6</div><div class="bd">이성호</div></div>
<div class="d m" style="left:448px;top:1624px;width:92px;height:58px"><div class="cd">1L4-7</div><div class="bd">이진우</div></div>
<div class="d m" style="left:448px;top:1681px;width:92px;height:57px"><div class="cd">1L4-8</div><div class="bd">이영준</div></div>
<div class="d m" style="left:448px;top:1737px;width:92px;height:56px"><div class="cd">1L4-9</div><div class="bd">최두영</div></div>
<div class="d m" style="left:448px;top:1792px;width:92px;height:59px"><div class="cd">1L4-10</div><div class="bd">정용채</div></div>
<div class="d" style="left:539px;top:1219px;width:92px;height:65px"><b>심지민</b><div class="cd">1L5-1</div><div class="bd">이은지</div></div>
<div class="d" style="left:539px;top:1283px;width:92px;height:65px"><div class="cd">1L5-2</div><div class="bd">박성민</div></div>
<div class="d" style="left:539px;top:1347px;width:92px;height:64px"><div class="cd">1L5-3</div><div class="bd">박정진</div></div>
<div class="d" style="left:539px;top:1410px;width:92px;height:63px"><div class="cd">1L5-4</div><div class="bd">김지영</div></div>
<div class="d o" style="left:539px;top:1517px;width:92px;height:78px"><b>이민재</b><div class="cd" style="margin-bottom:6px">1L5-5</div><div class="bd en" style="margin-bottom:10px">Seung Woo Lee</div></div>
<div class="d m" style="left:539px;top:1594px;width:92px;height:67px"><div class="cd">1L5-6</div><div class="bd">한장선</div></div>
<div class="d m" style="left:539px;top:1660px;width:92px;height:70px"><div class="cd">1L5-7</div><div class="bd">양정욱</div></div>
<div class="d m" style="left:539px;top:1729px;width:92px;height:56px"><div class="cd">1L5-8</div><div class="bd">홍영준</div></div>
<div class="d" style="left:630px;top:1219px;width:92px;height:65px"><b>유영창</b><div class="cd">1L6-1</div><div class="bd">김진철</div></div>
<div class="d" style="left:630px;top:1283px;width:92px;height:65px"><div class="cd">1L6-2</div><div class="bd">김호용</div></div>
<div class="d" style="left:630px;top:1347px;width:92px;height:64px"><div class="cd">1L6-3</div><div class="bd">최용호</div></div>
<div class="d" style="left:630px;top:1410px;width:92px;height:63px"><div class="cd">1L6-4</div><div class="bd">배상정</div></div>
<div class="d" style="left:630px;top:1517px;width:92px;height:63px"><b>김진철</b><div class="cd">1L6-5</div><div class="bd">정지은</div></div>
<div class="d" style="left:630px;top:1579px;width:92px;height:68px"><div class="cd">1L6-6</div><div class="bd">노명현</div></div>
<div class="d" style="left:630px;top:1646px;width:92px;height:63px"><div class="cd">1L6-7</div><div class="bd">송은하</div></div>
<div class="d" style="left:630px;top:1708px;width:92px;height:64px"><div class="cd">1L6-8</div><div class="bd">유영창</div></div>
<div class="d" style="left:721px;top:1219px;width:92px;height:65px"><b>구강희</b><div class="cd">1L7-1</div><div class="bd">조길원</div></div>
<div class="d" style="left:721px;top:1283px;width:92px;height:65px"><div class="cd">1L7-2</div><div class="bd">이경민</div></div>
<div class="d" style="left:721px;top:1347px;width:92px;height:64px"><div class="cd">1L7-3</div><div class="bd">김정욱</div></div>
<div class="d bl" style="left:721px;top:1410px;width:92px;height:43px"><div class="cd" style="margin:0">1O7-1</div><div style="font-size:15px;line-height:19px">김찬진</div></div>
<div class="d bl" style="left:721px;top:1452px;width:92px;height:51px"><div class="cd" style="margin:0">1O7-2</div><div style="font-size:15px;line-height:20px">박태현</div></div>
<div class="bk" style="left:721px;top:1503px;width:91px;height:27px">Break</div>
<div class="d" style="left:721px;top:1530px;width:92px;height:65px"><b>배세원</b><div class="cd">1L7-4</div><div class="bd">손정곤</div></div>
<div class="d" style="left:721px;top:1594px;width:92px;height:67px"><div class="cd">1L7-5</div><div class="bd">권석준</div></div>
<div class="d" style="left:721px;top:1660px;width:92px;height:70px"><div class="cd">1L7-6</div><div class="bd">김소연</div></div>
<div class="d" style="left:721px;top:1729px;width:92px;height:56px"><div class="cd">1L7-7</div><div class="bd">안효성</div></div>
<div class="d bl" style="left:721px;top:1784px;width:92px;height:55px"><div class="cd" style="margin:0">1O7-3</div><div style="font-size:15px;line-height:22px">박민수</div></div>
<div class="d o" style="left:812px;top:1219px;width:93px;height:79px"><b>손세진</b><div class="cd" style="margin-bottom:6px">1L8-1</div><div class="bd" style="font-size:14px;letter-spacing:-1px;margin-bottom:6px">김병수(서울대)</div></div>
<div class="d" style="left:812px;top:1297px;width:93px;height:71px"><div class="cd">1L8-2</div><div class="bd">주계일</div></div>
<div class="d" style="left:812px;top:1367px;width:93px;height:65px"><div class="cd">1L8-3</div><div class="bd">양기석</div></div>
<div class="d" style="left:812px;top:1431px;width:93px;height:64px"><div class="cd">1L8-4</div><div class="bd">정현정</div></div>
<div class="bk" style="left:812px;top:1496px;width:92px;height:50px">Break</div>
<div class="d" style="left:812px;top:1546px;width:93px;height:65px"><b>김교범</b><div class="cd">1L8-5</div><div class="bd">정현도</div></div>
<div class="d" style="left:812px;top:1610px;width:93px;height:64px"><div class="cd">1L8-6</div><div class="bd">장진아</div></div>
<div class="d" style="left:812px;top:1673px;width:93px;height:65px"><div class="cd">1L8-7</div><div class="bd">강현욱</div></div>
<div class="d" style="left:812px;top:1737px;width:93px;height:56px"><div class="cd">1L8-8</div><div class="bd">이소현</div></div>
<div class="d" style="left:904px;top:1219px;width:92px;height:65px"><b>박제영</b><div class="cd">1L9-1</div><div class="bd">최승목</div></div>
<div class="d" style="left:904px;top:1283px;width:92px;height:65px"><div class="cd">1L9-2</div><div class="bd">조은애</div></div>
<div class="d" style="left:904px;top:1347px;width:92px;height:64px"><div class="cd">1L9-3</div><div class="bd">최창혁</div></div>
<div class="d" style="left:904px;top:1410px;width:92px;height:63px"><div class="cd">1L9-4</div><div class="bd">류정기</div></div>
<div class="d" style="left:904px;top:1517px;width:92px;height:63px"><b>서명은</b><div class="cd">1L9-5</div><div class="bd">남대현</div></div>
<div class="d" style="left:904px;top:1579px;width:92px;height:68px"><div class="cd">1L9-6</div><div class="bd">장지욱</div></div>
<div class="d" style="left:904px;top:1646px;width:92px;height:63px"><div class="cd">1L9-7</div><div class="bd">원다혜</div></div>
<div class="d" style="left:904px;top:1708px;width:92px;height:64px"><div class="cd">1L9-8</div><div class="bd">김명진</div></div>
<div class="d" style="left:995px;top:1219px;width:92px;height:65px"><b>문숙영</b><div class="cd">1L10-1</div><div class="bd">김정일</div></div>
<div class="d" style="left:995px;top:1283px;width:92px;height:65px"><div class="cd">1L10-2</div><div class="bd">이윤주</div></div>
<div class="d" style="left:995px;top:1347px;width:92px;height:64px"><div class="cd">1L10-3</div><div class="bd">김지웅</div></div>
<div class="d" style="left:995px;top:1410px;width:92px;height:63px"><div class="cd">1L10-4</div><div class="bd">정현숙</div></div>
<div class="d" style="left:995px;top:1517px;width:92px;height:63px"><b>현진호,권지언</b><div class="cd">1L10-5</div><div class="bd">홍성민</div></div>
<div class="d" style="left:995px;top:1579px;width:92px;height:68px"><div class="cd">1L10-6</div><div class="bd">민병선</div></div>
<div class="d" style="left:995px;top:1646px;width:92px;height:63px"><div class="cd">1L10-7</div><div class="bd">박재범</div></div>
<div class="d" style="left:995px;top:1708px;width:92px;height:64px"><div class="cd">1L10-8</div><div class="bd">최원호</div></div>
<div class="d m" style="left:995px;top:1771px;width:92px;height:68px"><div class="cd">1L10-9</div><div class="bd" style="font-size:13px;letter-spacing:-1px">정병문(KIMS)</div></div>
<div class="d" style="left:1086px;top:1219px;width:92px;height:65px"><b>김명길</b><div class="cd">1L11-1</div><div class="bd">김동유</div></div>
<div class="d" style="left:1086px;top:1283px;width:92px;height:65px"><div class="cd">1L11-2</div><div class="bd">정운룡</div></div>
<div class="d" style="left:1086px;top:1347px;width:92px;height:64px"><div class="cd">1L11-3</div><div class="bd">유영민</div></div>
<div class="d" style="left:1086px;top:1410px;width:92px;height:63px"><div class="cd">1L11-4</div><div class="bd">김봉수</div></div>
<div class="d m" style="left:1086px;top:1472px;width:92px;height:59px"><div class="cd">1L11-5</div><div class="bd">석정돈</div></div>
<div class="d" style="left:1086px;top:1530px;width:92px;height:40px;justify-content:center;font:16px 'Liberation Serif',serif">Break</div>
<div class="d" style="left:1086px;top:1569px;width:92px;height:63px"><b>강문성</b><div class="cd" style="margin-bottom:6px">1L11-6</div><div class="bd">이태우</div></div>
<div class="d m" style="left:1086px;top:1631px;width:92px;height:58px"><div class="cd">1L11-7</div><div class="bd">임성갑</div></div>
<div class="d m" style="left:1086px;top:1688px;width:92px;height:58px"><div class="cd">1L11-8</div><div class="bd">정인환</div></div>
<div class="d m" style="left:1086px;top:1745px;width:92px;height:64px"><div class="cd">1L11-9</div><div class="bd">이경진</div></div>
<div class="d m" style="left:1086px;top:1808px;width:92px;height:56px"><div class="cd">1L11-10</div><div class="bd">김명길</div></div>
<div class="d o" style="left:1177px;top:1219px;width:92px;height:79px"><b>장윤희,엄승호</b><div class="cd" style="margin-bottom:8px">1L12-1</div><div class="bd en" style="margin-bottom:4px">Dan Luo</div></div>
<div class="d" style="left:1177px;top:1297px;width:92px;height:71px"><div class="cd">1L12-2</div><div class="bd">이찬석</div></div>
<div class="d" style="left:1177px;top:1367px;width:92px;height:65px"><div class="cd">1L12-3</div><div class="bd">노영훈</div></div>
<div class="d" style="left:1177px;top:1431px;width:92px;height:64px"><div class="cd">1L12-4</div><div class="bd">이종범</div></div>
<div class="bk" style="left:1177px;top:1496px;width:91px;height:50px">Break</div>
<div class="d" style="left:1177px;top:1546px;width:92px;height:65px"><b>장윤희,엄승호</b><div class="cd">1L12-5</div><div class="bd en">Yves Lansac</div></div>
<div class="d m" style="left:1177px;top:1610px;width:92px;height:58px"><div class="cd">1L12-6</div><div class="bd">최정모</div></div>
<div class="d m" style="left:1177px;top:1667px;width:92px;height:64px"><div class="cd">1L12-7</div><div class="bd">유제중</div></div>
<div class="d m" style="left:1177px;top:1730px;width:92px;height:63px"><div class="cd">1L12-8</div><div class="bd">현창봉</div></div>
<div class="d" style="left:1268px;top:1219px;width:93px;height:65px"><b>윤명한</b><div class="cd">1L13-1</div><div class="bd sm" style="font-size:9px;letter-spacing:-0.7px">Carlo Augusto Bortolotti</div></div>
<div class="d" style="left:1268px;top:1283px;width:93px;height:65px"><div class="cd">1L13-2</div><div class="bd">박철민</div></div>
<div class="d" style="left:1268px;top:1347px;width:93px;height:64px"><div class="cd">1L13-3</div><div class="bd sm">Eleonora Macchia</div></div>
<div class="d" style="left:1268px;top:1410px;width:93px;height:63px"><div class="cd">1L13-4</div><div class="bd">정성준</div></div>
<div class="d m" style="left:1268px;top:1472px;width:93px;height:59px"><div class="cd">1L13-5</div><div class="bd en">Andrea Spanu</div></div>
<div class="d" style="left:1268px;top:1530px;width:93px;height:40px;justify-content:center;font:16px 'Liberation Serif',serif">Break</div>
<div class="d" style="left:1268px;top:1569px;width:93px;height:71px"><b style="font-weight:normal;letter-spacing:-0.9px">Fabio Biscarini</b><div class="cd">1L13-6</div><div class="bd">박소정</div></div>
<div class="d m" style="left:1268px;top:1639px;width:93px;height:56px"><div class="cd">1L13-7</div><div class="bd sm" style="font-size:9.5px">Maria Rosa Antognazza</div></div>
<div class="d m" style="left:1268px;top:1694px;width:93px;height:58px"><div class="cd">1L13-8</div><div class="bd">이현주</div></div>
<div class="d m" style="left:1268px;top:1751px;width:93px;height:65px"><div class="cd">1L13-9</div><div class="bd sm" style="font-size:12px">Michele Di Lauro</div></div>
<div class="d" style="left:1360px;top:1219px;width:92px;height:65px"><b>윤홍석</b><div class="cd">1L14-1</div><div class="bd en">Ho-Hsiu Chou</div></div>
<div class="d" style="left:1360px;top:1283px;width:92px;height:65px"><div class="cd">1L14-2</div><div class="bd">조한희</div></div>
<div class="d" style="left:1360px;top:1347px;width:92px;height:64px"><div class="cd">1L14-3</div><div class="bd sm">Chia-Chih Chang</div></div>
<div class="d" style="left:1360px;top:1410px;width:92px;height:63px"><div class="cd">1L14-4</div><div class="bd">이수연</div></div>
<div class="bk" style="left:1360px;top:1474px;width:91px;height:42px">Break</div>
<div class="d" style="left:1360px;top:1517px;width:92px;height:63px"><b>허수미</b><div class="cd">1L14-5</div><div class="bd sm">Hsiao-Fang Wang</div></div>
<div class="d" style="left:1360px;top:1579px;width:92px;height:68px"><div class="cd">1L14-6</div><div class="bd">황혜림</div></div>
<div class="d" style="left:1360px;top:1646px;width:92px;height:63px"><div class="cd">1L14-7</div><div class="bd en">Li-Cheng Jheng</div></div>
<div class="d" style="left:1360px;top:1708px;width:92px;height:64px"><div class="cd">1L14-8</div><div class="bd">전윤석</div></div>

<div class="a" style="left:410px;top:1873px;width:43px;height:19px;background:#add8e0;border:1px solid #444"></div>
<div class="a" style="left:460px;top:1873px;font:14px/19px 'Liberation Sans','Noto Sans CJK KR',sans-serif;letter-spacing:-0.6px">신진연구자 특별 심포지엄</div>
<div class="a" style="left:643px;top:1873px;width:43px;height:19px;background:#f8d3b0;border:1px solid #444"></div>
<div class="a" style="left:693px;top:1873px;font:14px/19px 'Liberation Sans','Noto Sans CJK KR',sans-serif;letter-spacing:-0.6px">Keynote 특별발표(40분)</div>
</body></html>
